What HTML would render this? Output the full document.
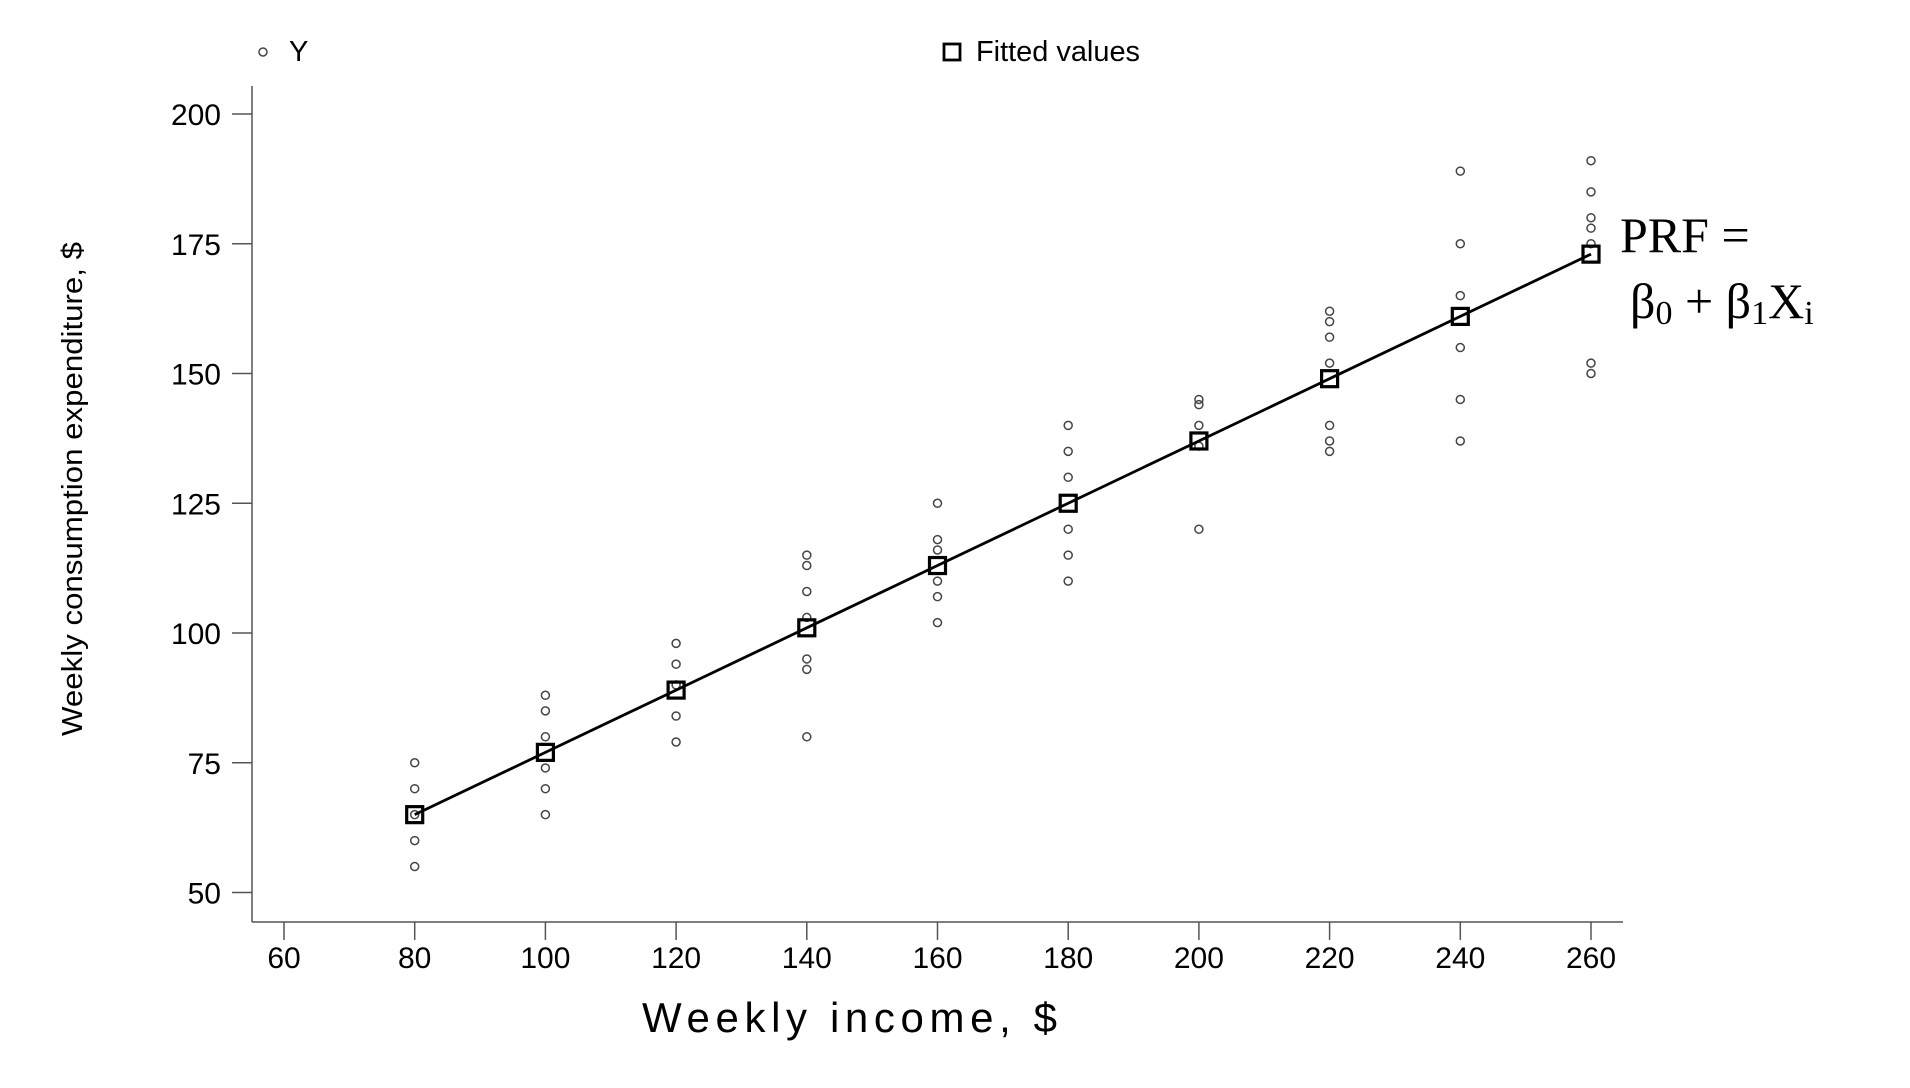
<!DOCTYPE html>
<html><head><meta charset="utf-8"><style>
html,body{margin:0;padding:0;background:#fff;}
svg{display:block;font-family:"Liberation Sans",Arial,sans-serif;}
</style></head><body>
<svg id="chart" width="1910" height="1088" viewBox="0 0 1910 1088" xmlns="http://www.w3.org/2000/svg">
  <g>
    <circle cx="263" cy="52" r="4" fill="none" stroke="#444" stroke-width="1.5"/>
    <text x="289" y="61" font-size="29">Y</text>
    <rect x="944" y="44" width="16" height="16" fill="none" stroke="#000" stroke-width="2.8"/>
    <text x="976" y="61" font-size="29" textLength="164" lengthAdjust="spacingAndGlyphs">Fitted values</text>
  </g>
  <g id="axes"></g>
  <g id="marks"></g>
  <text x="0" y="0" font-size="29" transform="translate(82,489) rotate(-90)" text-anchor="middle" textLength="494" lengthAdjust="spacingAndGlyphs">Weekly consumption expenditure, $</text>
  <text x="642" y="1032" font-size="42" textLength="415" lengthAdjust="spacing">Weekly income, $</text>
  <g font-family="'Liberation Serif','Times New Roman',serif" font-size="50">
    <text x="1620" y="252">PRF =</text>
    <text x="1630" y="318">β<tspan font-size="34" dy="6">0</tspan><tspan dy="-6"> + β</tspan><tspan font-size="34" dy="6">1</tspan><tspan dy="-6">X</tspan><tspan font-size="34" dy="6">i</tspan></text>
  </g>
</svg>
<script>
const incomes = [80,100,120,140,160,180,200,220,240,260];
const observed = [
  [55,60,65,70,75],
  [65,70,74,80,85,88],
  [79,84,90,94,98],
  [80,93,95,103,108,113,115],
  [102,107,110,116,118,125],
  [110,115,120,130,135,140],
  [120,136,140,144,145],
  [135,137,140,152,157,160,162],
  [137,145,155,165,175,189],
  [150,152,175,178,180,185,191]
];
const fitted = [65,77,89,101,113,125,137,149,161,173];
const xTicks = [60,80,100,120,140,160,180,200,220,240,260];
const yTicks = [50,75,100,125,150,175,200];

const NS = "http://www.w3.org/2000/svg";
function xS(v){ return 284 + (v-60)*6.535; }
function yS(v){ return 114 + (200-v)*5.19; }
function mk(tag, attrs, parent){
  const e = document.createElementNS(NS, tag);
  for (const k in attrs) e.setAttribute(k, attrs[k]);
  parent.appendChild(e);
  return e;
}
const axes = document.getElementById('axes');
const marks = document.getElementById('marks');

let el = mk('line',{x1:252,y1:86,x2:252,y2:922,stroke:'#555','stroke-width':1.5},axes);


el = mk('line',{x1:252,y1:922,x2:1623,y2:922,stroke:'#555','stroke-width':1.5},axes);



xTicks.forEach(t=>{
  const x = xS(t);
  const tk = mk('line',{x1:x,y1:922,x2:x,y2:940,stroke:'#555','stroke-width':1.5},axes);
  
  
  const lb = mk('text',{x:x,y:968,'font-size':30,'text-anchor':'middle'},axes);
  lb.textContent = t;
  
  
});
yTicks.forEach(t=>{
  const y = yS(t);
  const tk = mk('line',{x1:232,y1:y,x2:252,y2:y,stroke:'#555','stroke-width':1.5},axes);
  
  
  const lb = mk('text',{x:221,y:y+11,'font-size':30,'text-anchor':'end'},axes);
  lb.textContent = t;
  
  
});

observed.forEach((vals,i)=>{
  vals.forEach(v=>{
    const c = mk('circle',{cx:xS(incomes[i]),cy:yS(v),r:4,fill:'none',stroke:'#444','stroke-width':1.5},marks);
    
    
  });
});

const pts = fitted.map((v,i)=>xS(incomes[i])+','+yS(v)).join(' ');
const line = mk('polyline',{points:pts,fill:'none',stroke:'#000','stroke-width':2.8},marks);



fitted.forEach((v,i)=>{
  const s = mk('rect',{x:xS(incomes[i])-8,y:yS(v)-8,width:16,height:16,fill:'none',stroke:'#000','stroke-width':3.2},marks);
  
  
});
</script>
</body></html>
